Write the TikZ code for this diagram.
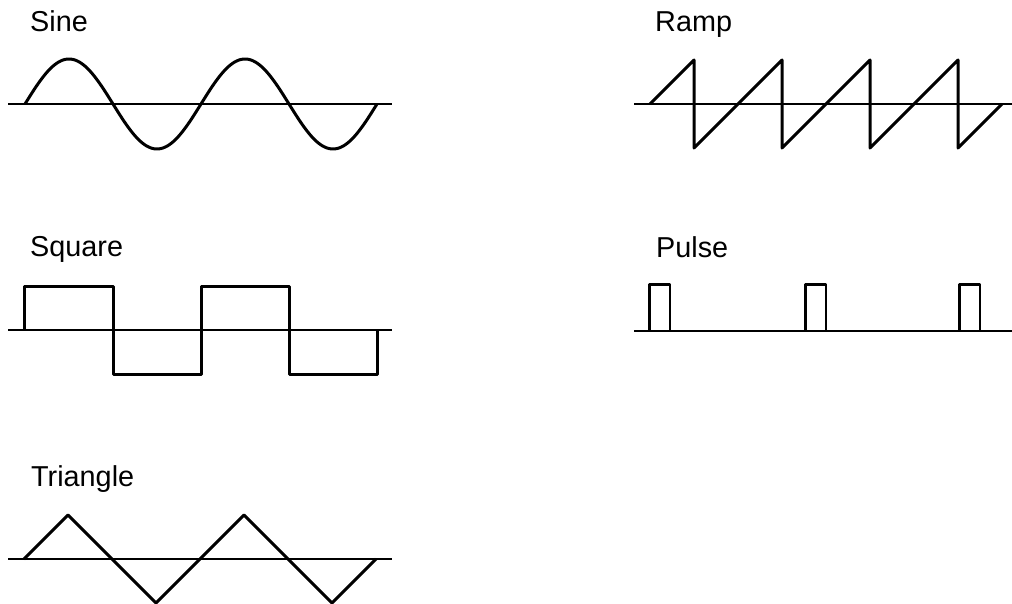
\documentclass[tikz,border=0pt]{standalone}
\usepackage{fontspec}
\setmainfont{Liberation Sans}
\begin{document}
\begin{tikzpicture}[x=1pt,y=-1pt,
  axis/.style={line width=2pt},
  wave/.style={line width=3pt,line join=round},
  pulsewave/.style={line width=2.4pt,line join=round},
  lbl/.style={anchor=base west,inner sep=0pt,font=\fontsize{28.8}{34}\selectfont}]
\useasboundingbox (0,0) rectangle (1012,604);
% labels
\node[lbl] (tsine) at (30,32) {Sine};
\node[lbl] (tramp) at (655,32) {Ramp};
\node[lbl] (tsquare) at (30,257) {Square};
\node[lbl] (tpulse) at (656,258) {Pulse};
\node[lbl] (ttri) at (31,486) {Triangle};
% sine
\draw[axis] (8,104) -- (392,104);
\draw[wave] plot[domain=0:352,samples=200] ({25+\x},{104-45*sin(\x*2.0454545)});
% square
\draw[axis] (8,330) -- (392,330);
\draw[wave] (24,330) -- (24,286) -- (113,286) -- (113,374) -- (201,374) -- (201,286) -- (289,286) -- (289,374) -- (377,374) -- (377,330);
% triangle
\draw[axis] (8,559) -- (392,559);
\draw[wave] (24,559) -- (68,515) -- (156,603) -- (244,515) -- (332,603) -- (376,559);
% ramp
\draw[axis] (634,104) -- (1012,104);
\draw[wave] (650,104) -- (694,60) -- (694,148) -- (782,60) -- (782,148) -- (870,60) -- (870,148) -- (958,60) -- (958,148) -- (1002,104);
% pulse
\draw[axis] (634,331) -- (1012,331);
\draw[pulsewave] (649.5,331) -- (649.5,284.5) -- (670,284.5) -- (670,331);
\draw[pulsewave] (805.5,331) -- (805.5,284.5) -- (826,284.5) -- (826,331);
\draw[pulsewave] (959.5,331) -- (959.5,284.5) -- (980,284.5) -- (980,331);
\end{tikzpicture}
\end{document}
